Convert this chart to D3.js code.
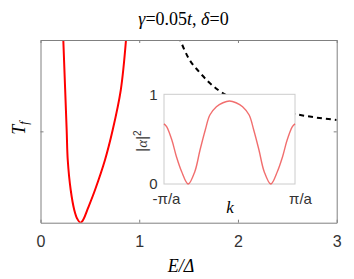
<!DOCTYPE html>
<html><head><meta charset="utf-8">
<script src="https://cdn.jsdelivr.net/npm/d3@7"></script>
<style>body{margin:0;background:#fff}svg{display:block}</style>
</head><body>
<script>
// Main panel: red curve T_f(E)
const redE = [0.231,0.265,0.276,0.306,0.342,0.372,0.405,0.438,0.474,0.552,0.653,0.731,0.813,0.866];
const redT = [1.0,0.507,0.343,0.179,0.070,0.022,0.0,0.022,0.070,0.179,0.343,0.507,0.726,1.0];
// Main panel: black dashed curve
const blkE = [1.40,1.50,1.60,1.80,2.00,2.20,2.40,2.60,2.80,3.00];
const blkT = [1.02,0.90,0.83,0.726,0.67,0.635,0.61,0.592,0.575,0.562];
const xTicks = [0,1,2,3];
const yTicks = [0.5];
// Inset: |alpha|^2 vs k (k in units of pi/a)
const insK = [-1,-0.96,-0.88,-0.81,-0.73,-0.63,-0.53,-0.45,-0.37,-0.30,-0.20,-0.10,0,0.10,0.20,0.30,0.37,0.45,0.53,0.63,0.73,0.81,0.88,0.96,1];
const insV = [0.67,0.639,0.49,0.304,0.137,0.0,0.137,0.379,0.602,0.769,0.862,0.906,0.925,0.906,0.862,0.769,0.602,0.379,0.137,0.0,0.137,0.304,0.49,0.639,0.67];
const insXTicks = [-1,1];
const insXLabels = ["-π/a","π/a"];
const insYTicks = [0,1];

const W=354,H=279;
const svg=d3.select("body").append("svg").attr("width",W).attr("height",H);

const x=d3.scaleLinear([0,3],[40.5,336.7]);
const y=d3.scaleLinear([0,1],[222.7,40]);

svg.append("defs").append("clipPath").attr("id","clip")
  .append("rect").attr("x",x(0)).attr("y",y(1)).attr("width",x(3)-x(0)).attr("height",y(0)-y(1));

const plot=svg.append("g").attr("clip-path","url(#clip)");
plot.append("path")
  .datum(blkE.map((e,i)=>[e,blkT[i]]))
  .attr("fill","none").attr("stroke","#000").attr("stroke-width",2).attr("stroke-dasharray","5,4")
  .attr("d",d3.line().x(d=>x(d[0])).y(d=>y(d[1])).curve(d3.curveMonotoneX));
plot.append("path")
  .datum(redE.map((e,i)=>[e,redT[i]]))
  .attr("fill","none").attr("stroke","#ff0000").attr("stroke-width",2)
  .attr("d",d3.line().x(d=>x(d[0])).y(d=>y(d[1])).curve(d3.curveCatmullRom.alpha(0.5)));

const axColor="#808080";
function styleAxis(g){
  g.select(".domain").attr("stroke",axColor);
  g.selectAll(".tick line").attr("stroke",axColor);
  g.selectAll(".tick text").attr("fill","#333").attr("font-family","Liberation Sans, Arial, sans-serif").attr("font-size",16);
}
svg.append("g").attr("transform",`translate(0,${y(0)})`)
  .call(d3.axisBottom(x).tickValues(xTicks).tickFormat(d3.format("d")).tickSizeInner(-3).tickSizeOuter(0).tickPadding(12.6))
  .call(styleAxis);
svg.append("g").attr("transform",`translate(0,${y(1)})`)
  .call(d3.axisTop(x).tickValues(xTicks).tickFormat("").tickSizeInner(-3).tickSizeOuter(0))
  .call(styleAxis);
svg.append("g").attr("transform",`translate(${x(0)},0)`)
  .call(d3.axisLeft(y).tickValues(yTicks).tickFormat("").tickSizeInner(-3).tickSizeOuter(0))
  .call(styleAxis);
svg.append("g").attr("transform",`translate(${x(3)},0)`)
  .call(d3.axisRight(y).tickValues(yTicks).tickFormat("").tickSizeInner(-3).tickSizeOuter(0))
  .call(styleAxis);

// Title and labels
const serif="Liberation Serif, Times New Roman, serif";
const title=svg.append("text").attr("x",183.5).attr("y",25).attr("text-anchor","middle")
  .attr("font-family",serif).attr("font-size",18).attr("fill","#000");
title.append("tspan").attr("font-style","italic").text("γ");
title.append("tspan").text("=0.05");
title.append("tspan").attr("font-style","italic").text("t");
title.append("tspan").text(", ");
title.append("tspan").attr("font-style","italic").text("δ");
title.append("tspan").text("=0");

svg.append("text").attr("x",181).attr("y",271.5).attr("text-anchor","middle")
  .attr("font-family",serif).attr("font-size",18).attr("font-style","italic").attr("fill","#000").text("E/Δ");

const tf=svg.append("text").attr("transform","translate(25,128) rotate(-90)").attr("text-anchor","middle")
  .attr("font-family",serif).attr("font-size",18).attr("font-style","italic").attr("fill","#000");
tf.append("tspan").text("T");
tf.append("tspan").attr("font-size",12).attr("dy",3).text("f");

// Inset
const xi=d3.scaleLinear([-1,1],[164,295]);
const yi=d3.scaleLinear([0,1],[184,94.3]);
const ins=svg.append("g");
ins.append("rect").attr("x",xi(-1)).attr("y",yi(1)).attr("width",xi(1)-xi(-1)).attr("height",yi(0)-yi(1))
  .attr("fill","#fff").attr("stroke","#cccccc").attr("stroke-width",1);
ins.append("path")
  .datum(insK.map((k,i)=>[k,insV[i]]))
  .attr("fill","none").attr("stroke","#ee4a4a").attr("stroke-opacity",0.8).attr("stroke-width",1.4)
  .attr("d",d3.line().x(d=>xi(d[0])).y(d=>yi(d[1])).curve(d3.curveCatmullRom.alpha(0.5)));

function styleIns(g){
  g.select(".domain").remove();
  g.selectAll(".tick line").remove();
  g.selectAll(".tick text").attr("fill","#333").attr("font-family","Liberation Sans, Arial, sans-serif").attr("font-size",15);
}
ins.append("g").attr("transform",`translate(${xi(-1)},0)`)
  .call(d3.axisLeft(yi).tickValues(insYTicks).tickFormat(d3.format("d")).tickSize(0).tickPadding(6.5))
  .call(styleIns);
const xa=ins.append("g").attr("transform",`translate(0,${yi(0)})`)
  .call(d3.axisBottom(xi).tickValues(insXTicks).tickFormat((d,i)=>insXLabels[i]).tickSize(0).tickPadding(9.3))
  .call(styleIns);
xa.selectAll(".tick text").attr("dx",(d,i)=>i===0?2:5);

ins.append("text").attr("x",230).attr("y",213).attr("text-anchor","middle")
  .attr("font-family",serif).attr("font-size",17).attr("font-style","italic").attr("fill","#000").text("k");

const al=ins.append("text").attr("transform","translate(147,141) rotate(-90)").attr("text-anchor","middle")
  .attr("font-family","Liberation Sans, Arial, sans-serif").attr("font-size",15).attr("fill","#333");
al.append("tspan").text("|");
al.append("tspan").attr("font-family",serif).attr("font-style","italic").text("α");
al.append("tspan").text("|");
al.append("tspan").attr("font-size",10).attr("dy",-6).text("2");
</script>
</body></html>
